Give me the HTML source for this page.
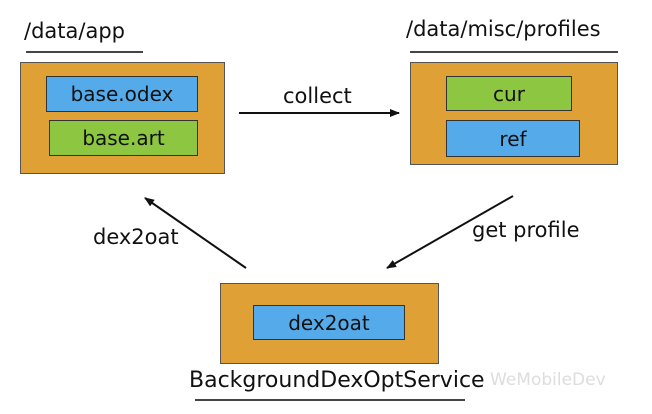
<!DOCTYPE html>
<html><head><style>
body{margin:0;width:652px;height:414px;background:#fff;position:relative;overflow:hidden;font-family:"DejaVu Sans","Liberation Sans",sans-serif;color:#111}
.a{position:absolute}
.o{background:#DFA136;border:1px solid #555;box-sizing:border-box}
.b{background:#55AAEA;border:1.5px solid #333;box-sizing:border-box;display:flex;align-items:center;justify-content:center;font-size:20px}
.g{background:#8DC640;border:1.5px solid #333;box-sizing:border-box;display:flex;align-items:center;justify-content:center;font-size:20px}
.t{font-size:21px;white-space:nowrap}
.u{height:2px;background:#444}
</style></head><body>
<div class="a t" style="left:24px;top:19px">/data/app</div>
<div class="a u" style="left:26px;top:51px;width:117px"></div>
<div class="a o" style="left:20px;top:62px;width:205px;height:112px"></div>
<div class="a b" style="left:46px;top:76px;width:152px;height:36px">base.odex</div>
<div class="a g" style="left:49px;top:120px;width:149px;height:36px">base.art</div>

<div class="a t" style="left:406px;top:17px">/data/misc/profiles</div>
<div class="a u" style="left:410px;top:51px;width:208px"></div>
<div class="a o" style="left:410px;top:62px;width:208px;height:103px"></div>
<div class="a g" style="left:446px;top:76px;width:126px;height:35px">cur</div>
<div class="a b" style="left:446px;top:120px;width:134px;height:37px">ref</div>

<div class="a t" style="left:283px;top:84px;font-size:21px">collect</div>
<div class="a t" style="left:93px;top:225px;font-size:21px">dex2oat</div>
<div class="a t" style="left:472px;top:218px;font-size:21px">get profile</div>

<div class="a o" style="left:220px;top:283px;width:219px;height:81px"></div>
<div class="a b" style="left:253px;top:305px;width:152px;height:35px">dex2oat</div>
<div class="a t" style="left:189px;top:368px;font-size:22px">BackgroundDexOptService</div>
<div class="a u" style="left:195px;top:399px;width:270px"></div>
<div class="a" style="left:490px;top:370px;font-size:17px;color:#ddd">WeMobileDev</div>

<svg class="a" style="left:0;top:0" width="652" height="414">
<defs><marker id="m" markerWidth="10" markerHeight="8" refX="9" refY="4" orient="auto" markerUnits="userSpaceOnUse"><path d="M0,0 L10,4 L0,8 Z" fill="#111"/></marker></defs>
<line x1="239" y1="113" x2="399" y2="113" stroke="#111" stroke-width="2" marker-end="url(#m)"/>
<line x1="246" y1="268" x2="145" y2="198" stroke="#111" stroke-width="2" marker-end="url(#m)"/>
<line x1="513" y1="196" x2="387" y2="268" stroke="#111" stroke-width="2" marker-end="url(#m)"/>
</svg>
</body></html>
